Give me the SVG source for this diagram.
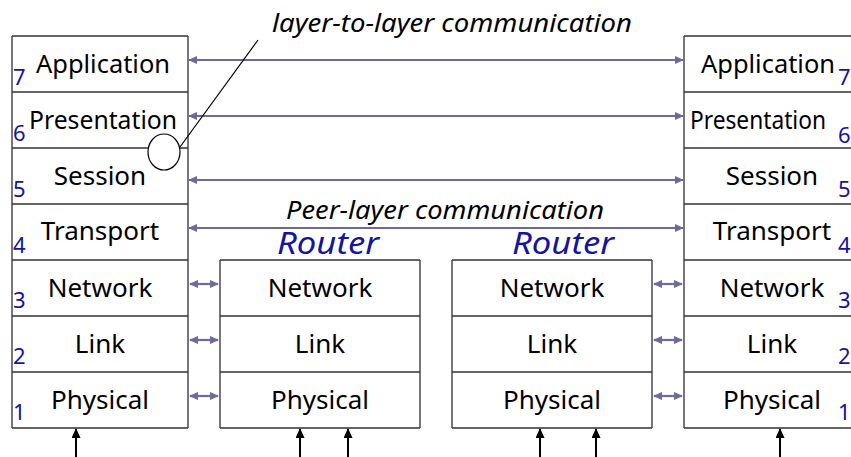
<svg xmlns="http://www.w3.org/2000/svg" width="851" height="457" viewBox="0 0 851 457">
<defs>
<marker id="ah" viewBox="0 0 10 10" refX="9" refY="5" markerWidth="9" markerHeight="8" orient="auto-start-reverse" markerUnits="userSpaceOnUse" preserveAspectRatio="none">
<path d="M0,0 L10,5 L0,10 z" fill="#6a6a9c"/>
</marker>
<marker id="ab" viewBox="0 0 10 10" refX="9" refY="5" markerWidth="10" markerHeight="9" orient="auto" markerUnits="userSpaceOnUse" preserveAspectRatio="none">
<path d="M0,0 L10,5 L0,10 z" fill="#000"/>
</marker>
</defs>
<style>
.box{fill:#fff;stroke:none}
.side{stroke:#777;stroke-width:2;fill:none}
.div{stroke:#333;stroke-width:1.3;fill:none}
.lbl{font-family:"Noto Sans","DejaVu Sans",sans-serif;font-size:26px;fill:#000;text-anchor:middle}
.num{font-family:"Noto Sans","DejaVu Sans",sans-serif;font-size:22px;fill:#1414a0}
.rt{font-family:"Noto Sans","DejaVu Sans",sans-serif;font-size:30px;font-style:italic;fill:#1414a0;text-anchor:middle}
.cap{font-family:"Noto Sans","DejaVu Sans",sans-serif;font-size:25px;font-style:italic;fill:#000}
.pa{stroke:#6a6a9c;stroke-width:2.2;fill:none;marker-start:url(#ah);marker-end:url(#ah)}
.up{stroke:#000;stroke-width:2;fill:none;marker-end:url(#ab)}
</style>

<g id="left-stack">
<rect class="box" x="12" y="36" width="176" height="392"/>
<path class="side" d="M12,36 V428 M188,36 V428"/>
<path class="div" d="M12,36 H188 M12,92 H188 M12,148 H188 M12,204 H188 M12,260 H188 M12,316 H188 M12,372 H188 M12,428 H188"/>
<text class="lbl" x="103" y="73" textLength="134" lengthAdjust="spacingAndGlyphs">Application</text>
<text class="lbl" x="103" y="129" textLength="148" lengthAdjust="spacingAndGlyphs">Presentation</text>
<text class="lbl" x="100" y="185">Session</text>
<text class="lbl" x="100" y="240">Transport</text>
<text class="lbl" x="100" y="297">Network</text>
<text class="lbl" x="100" y="353">Link</text>
<text class="lbl" x="100" y="409">Physical</text>
<text class="num" x="13" y="85">7</text>
<text class="num" x="13" y="141">6</text>
<text class="num" x="13" y="197">5</text>
<text class="num" x="13" y="253">4</text>
<text class="num" x="13" y="308">3</text>
<text class="num" x="13" y="364">2</text>
<text class="num" x="13" y="420">1</text>
</g>

<g id="router1">
<rect class="box" x="220" y="260" width="200" height="168"/>
<path class="side" d="M220,260 V428 M420,260 V428"/>
<path class="div" d="M220,260 H420 M220,316 H420 M220,372 H420 M220,428 H420"/>
<text class="rt" x="328" y="254" textLength="102" lengthAdjust="spacingAndGlyphs">Router</text>
<text class="lbl" x="320" y="297">Network</text>
<text class="lbl" x="320" y="353">Link</text>
<text class="lbl" x="320" y="409">Physical</text>
</g>

<g id="router2">
<rect class="box" x="452" y="260" width="200" height="168"/>
<path class="side" d="M452,260 V428 M652,260 V428"/>
<path class="div" d="M452,260 H652 M452,316 H652 M452,372 H652 M452,428 H652"/>
<text class="rt" x="563" y="254" textLength="102" lengthAdjust="spacingAndGlyphs">Router</text>
<text class="lbl" x="552" y="297">Network</text>
<text class="lbl" x="552" y="353">Link</text>
<text class="lbl" x="552" y="409">Physical</text>
</g>

<g id="right-stack">
<rect class="box" x="684" y="36" width="176" height="392"/>
<path class="side" d="M684,36 V428"/>
<path class="div" d="M684,36 H860 M684,92 H860 M684,148 H860 M684,204 H860 M684,260 H860 M684,316 H860 M684,372 H860 M684,428 H860"/>
<text class="lbl" x="768" y="73" textLength="134" lengthAdjust="spacingAndGlyphs">Application</text>
<text class="lbl" x="758" y="129" textLength="136" lengthAdjust="spacingAndGlyphs">Presentation</text>
<text class="lbl" x="772" y="185">Session</text>
<text class="lbl" x="772" y="240">Transport</text>
<text class="lbl" x="772" y="297">Network</text>
<text class="lbl" x="772" y="353">Link</text>
<text class="lbl" x="772" y="409">Physical</text>
<text class="num" x="838" y="85">7</text>
<text class="num" x="838" y="143">6</text>
<text class="num" x="838" y="197">5</text>
<text class="num" x="838" y="253">4</text>
<text class="num" x="838" y="308">3</text>
<text class="num" x="838" y="364">2</text>
<text class="num" x="838" y="420">1</text>
</g>

<g id="connectors">
<line class="pa" x1="189" y1="60" x2="683" y2="60"/>
<line class="pa" x1="189" y1="116" x2="683" y2="116"/>
<line class="pa" x1="189" y1="180" x2="683" y2="180"/>
<line class="pa" x1="189" y1="228" x2="683" y2="228"/>
<line class="pa" x1="190" y1="284" x2="218" y2="284"/>
<line class="pa" x1="190" y1="340" x2="218" y2="340"/>
<line class="pa" x1="190" y1="396" x2="218" y2="396"/>
<line class="pa" x1="654" y1="284" x2="682" y2="284"/>
<line class="pa" x1="654" y1="340" x2="682" y2="340"/>
<line class="pa" x1="654" y1="396" x2="682" y2="396"/>
<line class="up" x1="76" y1="457" x2="76" y2="429"/>
<line class="up" x1="300" y1="457" x2="300" y2="429"/>
<line class="up" x1="348" y1="457" x2="348" y2="429"/>
<line class="up" x1="540" y1="457" x2="540" y2="429"/>
<line class="up" x1="596" y1="457" x2="596" y2="429"/>
<line class="up" x1="780" y1="457" x2="780" y2="429"/>
</g>

<g id="annotation">
<ellipse cx="164" cy="152" rx="16" ry="18" fill="#fff" stroke="#000" stroke-width="1.2"/>
<line x1="180" y1="147" x2="258" y2="40" stroke="#000" stroke-width="1.2"/>
<text class="cap" x="272" y="32" textLength="360" lengthAdjust="spacingAndGlyphs">layer-to-layer communication</text>
<text class="cap" x="286" y="219" textLength="318" lengthAdjust="spacingAndGlyphs">Peer-layer communication</text>
</g>
</svg>
